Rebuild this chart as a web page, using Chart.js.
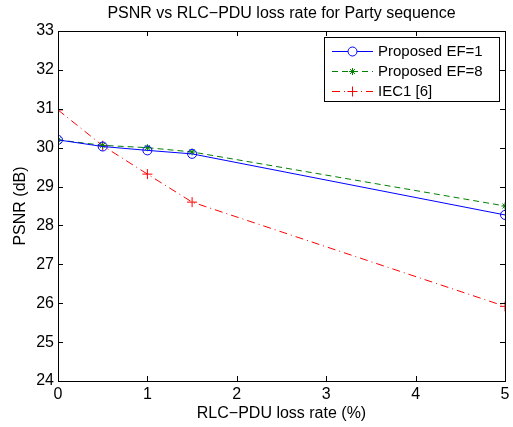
<!DOCTYPE html>
<html>
<head>
<meta charset="utf-8">
<script src="https://cdn.jsdelivr.net/npm/chart.js@4"></script>
<style>
  html, body { margin: 0; padding: 0; background: #fff; }
  #wrap { width: 513px; height: 427px; }
</style>
</head>
<body>
<div id="wrap"><canvas id="chart" width="513" height="427"></canvas></div>
<script>
/********** DATA **********/
const lossRate = [0, 0.5, 1, 1.5, 5];
const psnrEF1 = [30.2, 30.03, 29.93, 29.84, 28.27];
const psnrEF8 = [30.2, 30.06, 30.0, 29.89, 28.5];
const psnrIEC1 = [30.97, 30.05, 29.32, 28.6, 25.92];
const seriesNames = ['Proposed EF=1', 'Proposed EF=8', 'IEC1 [6]'];
const xTicks = [0, 1, 2, 3, 4, 5];
const yTicks = [24, 25, 26, 27, 28, 29, 30, 31, 32, 33];

const chartTitle = 'PSNR vs RLC\u2212PDU loss rate for Party sequence';
const xTitle = 'RLC\u2212PDU loss rate (%)';
const yTitle = 'PSNR (dB)';

const FONT = '"Liberation Sans", Arial, sans-serif';

function pts(ys) {
  return lossRate.map((x, i) => ({ x: x, y: ys[i] }));
}

/********** MATLAB-style frame, ticks, labels, legend **********/
const matlabFrame = {
  id: 'matlabFrame',
  afterDraw(chart) {
    const ctx = chart.ctx;
    const a = chart.chartArea;
    const xs = chart.scales.x, ys = chart.scales.y;
    ctx.save();

    // box
    ctx.strokeStyle = '#000';
    ctx.lineWidth = 1;
    ctx.strokeRect(Math.round(a.left) + 0.5, Math.round(a.top) + 0.5,
      Math.round(a.right - a.left), Math.round(a.bottom - a.top));

    // inward ticks
    const tl = 5;
    ctx.beginPath();
    xTicks.forEach(v => {
      const px = Math.round(xs.getPixelForValue(v)) + 0.5;
      ctx.moveTo(px, a.bottom); ctx.lineTo(px, a.bottom - tl);
      ctx.moveTo(px, a.top); ctx.lineTo(px, a.top + tl);
    });
    yTicks.forEach(v => {
      const py = Math.round(ys.getPixelForValue(v)) + 0.5;
      ctx.moveTo(a.left, py); ctx.lineTo(a.left + tl, py);
      ctx.moveTo(a.right, py); ctx.lineTo(a.right - tl, py);
    });
    ctx.stroke();

    // tick labels
    ctx.fillStyle = '#000';
    ctx.font = '16px ' + FONT;
    ctx.textAlign = 'center';
    ctx.textBaseline = 'middle';
    xTicks.forEach(v => ctx.fillText(String(v), xs.getPixelForValue(v), a.bottom + 14));
    ctx.textAlign = 'right';
    yTicks.forEach(v => ctx.fillText(String(v), a.left - 4, ys.getPixelForValue(v)));

    // titles
    ctx.textAlign = 'center';
    ctx.textBaseline = 'middle';
    ctx.fillText(chartTitle, (a.left + a.right) / 2, 14);
    ctx.fillText(xTitle, (a.left + a.right) / 2, 414);
    ctx.save();
    ctx.translate(21, (a.top + a.bottom) / 2);
    ctx.rotate(-Math.PI / 2);
    ctx.fillText(yTitle, 0, 0);
    ctx.restore();

    // legend
    const lx = 324, ly = 37, lw = 175, lh = 64;
    ctx.fillStyle = '#fff';
    ctx.fillRect(lx, ly, lw, lh);
    ctx.strokeStyle = '#000';
    ctx.strokeRect(lx + 0.5, ly + 0.5, lw, lh);
    chart.data.datasets.forEach((ds, i) => {
      const y = ly + 14 + i * 20;
      ctx.strokeStyle = ds.borderColor;
      ctx.lineWidth = 1;
      ctx.setLineDash(ds.borderDash || []);
      ctx.beginPath();
      ctx.moveTo(332, y + 0.5); ctx.lineTo(373, y + 0.5);
      ctx.stroke();
      ctx.setLineDash([]);
      Chart.helpers.drawPoint(ctx, {
        pointStyle: ds.pointStyle, radius: ds.pointRadius,
        borderWidth: 1, rotation: 0
      }, 352.5, y + 0.5);
      ctx.fillStyle = '#000';
      ctx.textAlign = 'left';
      ctx.textBaseline = 'middle';
      ctx.font = '15px ' + FONT;
      ctx.fillText(seriesNames[i], 378, y + 1);
    });
    ctx.restore();
  }
};

/********** CHART **********/
const ctx = document.getElementById('chart').getContext('2d');
new Chart(ctx, {
  type: 'line',
  data: {
    datasets: [
      {
        label: seriesNames[0], data: pts(psnrEF1),
        borderColor: '#0000ff', backgroundColor: 'rgba(0,0,0,0)',
        borderWidth: 1, pointStyle: 'circle', pointRadius: 4.5,
        pointBorderWidth: 1, pointBackgroundColor: 'rgba(0,0,0,0)',
        pointBorderColor: '#0000ff', tension: 0
      },
      {
        label: seriesNames[1], data: pts(psnrEF8),
        borderColor: '#008000', backgroundColor: 'rgba(0,0,0,0)',
        borderWidth: 1, borderDash: [6, 4], pointStyle: 'star', pointRadius: 3.5,
        pointBorderWidth: 1, pointBorderColor: '#008000', tension: 0
      },
      {
        label: seriesNames[2], data: pts(psnrIEC1),
        borderColor: '#ff0000', backgroundColor: 'rgba(0,0,0,0)',
        borderWidth: 1, borderDash: [8, 4, 1, 4], pointStyle: 'cross', pointRadius: 5,
        pointBorderWidth: 1, pointBorderColor: '#ff0000', tension: 0
      }
    ]
  },
  options: {
    responsive: false,
    animation: false,
    events: [],
    layout: { padding: { left: 0, right: 8, top: 31, bottom: 0 } },
    plugins: { legend: { display: false }, title: { display: false }, tooltip: { enabled: false } },
    scales: {
      x: {
        type: 'linear', min: 0, max: 5,
        grid: { display: false }, border: { display: false },
        ticks: { display: false, stepSize: 1 },
        afterFit(s) { s.height = 46; }
      },
      y: {
        type: 'linear', min: 24, max: 33,
        grid: { display: false }, border: { display: false },
        ticks: { display: false, stepSize: 1 },
        afterFit(s) { s.width = 58; }
      }
    }
  },
  plugins: [matlabFrame]
});
</script>
</body>
</html>
